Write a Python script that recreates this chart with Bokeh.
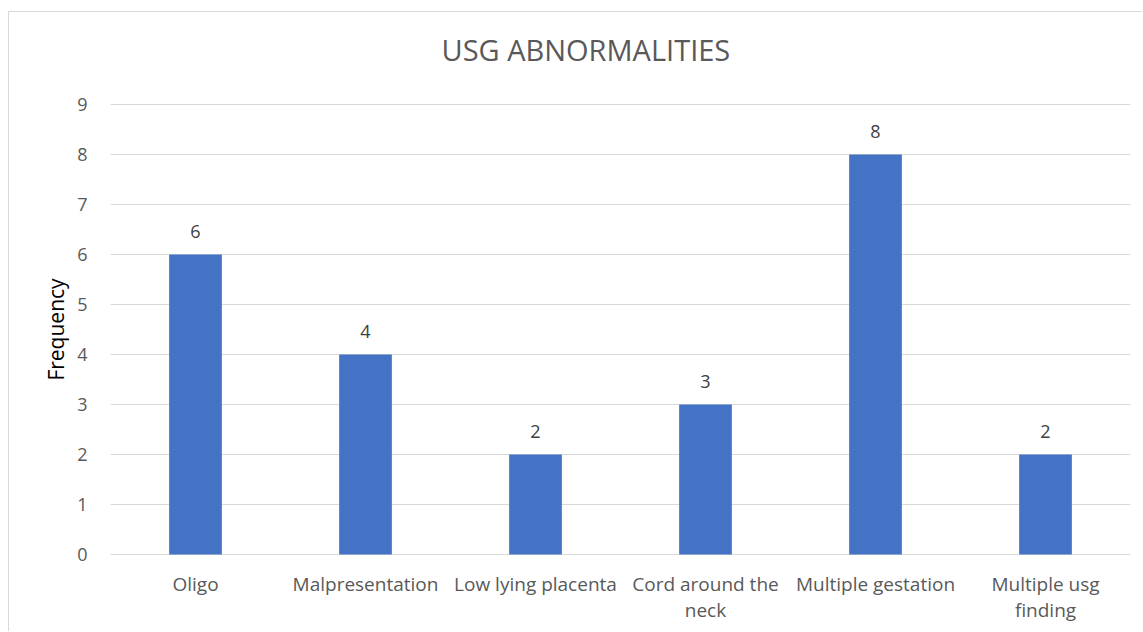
from bokeh.plotting import figure
from bokeh.models import ColumnDataSource, LabelSet, Range1d, FactorRange
from bokeh.core.properties import value
from bokeh.embed import file_html
from bokeh.resources import INLINE

categories = ["Oligo", "Malpresentation", "Low lying placenta", "Cord around the\nneck",
              "Multiple gestation", "Multiple usg\nfinding"]
frequency = [6, 4, 2, 3, 8, 2]
y_ticks = list(range(0, 10))

FONT = "Open Sans"
GREY = "#595959"

src = ColumnDataSource(dict(cat=categories, val=frequency, lab=[str(v) for v in frequency]))

p = figure(x_range=FactorRange(*categories, range_padding=0), y_range=Range1d(-0.5, 9.5),
           width=1134, height=620, output_backend="svg", toolbar_location=None,
           min_border_left=101, min_border_right=13, min_border_top=67, min_border_bottom=53,
           title="USG ABNORMALITIES")

p.vbar(x="cat", top="val", bottom=0, width=0.31, source=src, color="#4472C4", line_color=None)
p.add_layout(LabelSet(x="cat", y="val", text="lab", source=src, y_offset=23,
                      text_align="center", text_baseline="middle",
                      text_font_size="18px", text_color="#404040", text_font=value(FONT)))

p.title.align = "left"
p.title.offset = 331
p.title.text_font = FONT
p.title.text_font_size = "29px"
p.title.text_font_style = "normal"
p.title.text_color = GREY
p.title.standoff = 21

p.outline_line_color = None
p.xgrid.grid_line_color = None
p.ygrid.grid_line_color = "#d9d9d9"
p.ygrid.grid_line_width = 1
p.yaxis.ticker = y_ticks

p.yaxis.axis_line_color = None
p.yaxis.major_tick_line_color = None
p.yaxis.minor_tick_line_color = None
p.yaxis.major_label_text_font = FONT
p.yaxis.major_label_text_font_size = "18px"
p.yaxis.major_label_text_color = GREY
p.yaxis.major_label_standoff = 17
p.yaxis.axis_label = "Frequency"
p.yaxis.axis_label_text_font = FONT
p.yaxis.axis_label_text_font_size = "21px"
p.yaxis.axis_label_text_font_style = "normal"
p.yaxis.axis_label_text_color = "#000000"
p.yaxis.axis_label_standoff = 4

p.xaxis.axis_line_color = None
p.xaxis.major_tick_line_color = None
p.xaxis.minor_tick_line_color = None
p.xaxis.major_label_text_font = FONT
p.xaxis.major_label_text_font_size = "19px"
p.xaxis.major_label_text_line_height = 1.0
p.xaxis.major_label_text_color = GREY
p.xaxis.major_label_standoff = -15

p.styles = {"margin-left": "8px", "margin-top": "11px",
            "border-top": "1px solid #d9d9d9", "border-left": "1px solid #d9d9d9"}

open("out.html", "w").write(file_html(p, INLINE))
